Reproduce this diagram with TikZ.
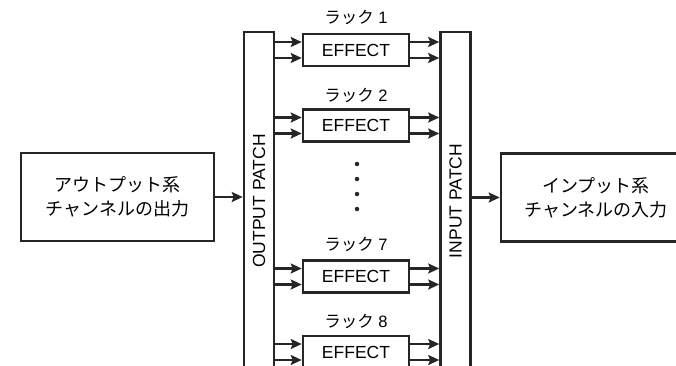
\documentclass[tikz,border=0pt]{standalone}
\usepackage{fontspec}
\setmainfont{Liberation Sans}
\newfontfamily\jp{Noto Sans CJK JP}
\usetikzlibrary{arrows.meta,positioning}
\begin{document}
\begin{tikzpicture}[x=1pt,y=-1pt,
  boxst/.style={draw=black!85,line width=2.6pt,inner sep=0pt,fill=white},
  fx/.style={boxst,minimum width=106pt,minimum height=32pt,font=\fontsize{17.5}{20}\selectfont},
  patchst/.style={boxst,minimum width=30pt,minimum height=350pt},
  bigbox/.style={boxst,minimum height=88pt,align=center,font=\jp\fontsize{18}{24}\selectfont},
  racklbl/.style={font=\fontsize{16.5}{18}\selectfont,inner sep=0pt},
  arr/.style={draw=black!85,line width=2.3pt,-{Stealth[length=11pt,width=10pt,inset=2pt]}},
  dotst/.style={circle,fill=black!85,inner sep=0pt,minimum size=4.5pt}]
\useasboundingbox (0,0) rectangle (676,366);
\clip (0,0) rectangle (676,366);
% patches
\node[patchst] (op) at (259,207) {};
\node[patchst] (ip) at (455.5,207) {};
\node[rotate=90,font=\fontsize{17.5}{20}\selectfont] (opt) at (259,201) {OUTPUT PATCH};
\node[rotate=90,font=\fontsize{17.5}{20}\selectfont] (ipt) at (455.5,201) {INPUT PATCH};
% side boxes
\node[bigbox,minimum width=193pt] (src) at (117.5,197) {アウトプット系\\チャンネルの出力};
\node[bigbox,minimum width=190pt] (dst) at (596,197.5) {インプット系\\チャンネルの入力};
% effects
\node[fx] (e1) at (356,50) {EFFECT};
\node[fx] (e2) at (356,125.5) {EFFECT};
\node[fx] (e7) at (356,276.5) {EFFECT};
\node[fx] (e8) at (356,352) {EFFECT};
\node[racklbl] (l1) at (356,17) {{\jp ラック} 1};
\node[racklbl] (l2) at (356,95) {{\jp ラック} 2};
\node[racklbl] (l7) at (356,244) {{\jp ラック} 7};
\node[racklbl] (l8) at (356,321) {{\jp ラック} 8};
% dots
\node[dotst] (d1) at (357,164) {};
\node[dotst] (d2) at (357,179) {};
\node[dotst] (d3) at (357,194) {};
\node[dotst] (d4) at (357,209) {};
% connectors
\foreach \e in {e1,e2,e7,e8}{
  \foreach \s in {8,-8}{
    \coordinate (\e in\s) at ([yshift=\s pt]\e.west);
    \coordinate (\e out\s) at ([yshift=\s pt]\e.east);
    \draw[arr] (op.east |- \e in\s) -- (\e in\s);
    \draw[arr] (\e out\s) -- (ip.west |- \e out\s);
  }
}
\draw[arr] (src.east) -- (op.west |- src.east);
\draw[arr] (ip.east |- dst.west) -- (dst.west);
\end{tikzpicture}
\end{document}
